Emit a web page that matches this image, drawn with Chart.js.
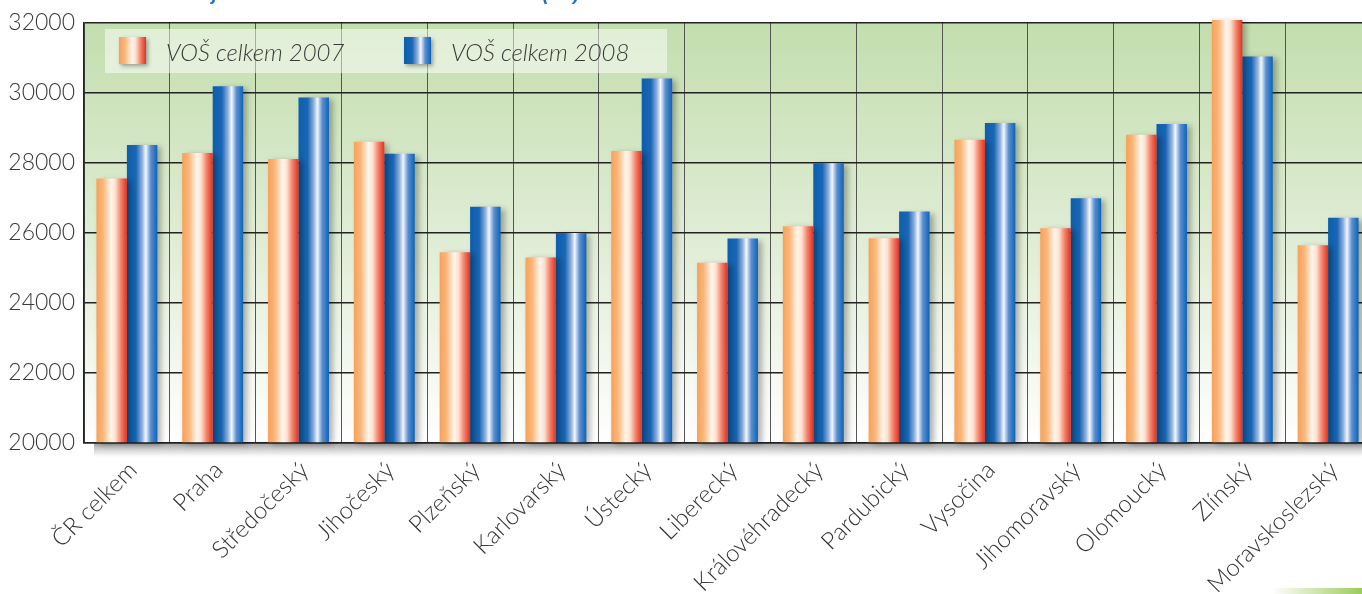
<!DOCTYPE html>
<html>
<head>
<meta charset="utf-8">
<script src="https://cdn.jsdelivr.net/npm/chart.js@4"></script>
<style>
html,body{margin:0;padding:0;background:#fff;overflow:hidden;width:1362px;height:594px;}
#wrap{position:relative;width:1362px;height:594px;overflow:hidden;}
#title{position:absolute;left:176px;top:-17px;font:italic bold 19px "Liberation Sans",Arial,sans-serif;color:#1a74c6;white-space:nowrap;}
#deco{position:absolute;left:1272px;top:588px;width:90px;height:6px;background:linear-gradient(to right,rgba(160,205,100,0),#9ccb5c);}
canvas{position:absolute;left:0;top:0;}
</style>
</head>
<body>
<div id="wrap">
<canvas id="c" width="1372" height="594"></canvas>
<div id="title">Údaje za rok 2008 vzhledem k roku 2007 (Kč)</div>
<div id="deco"></div>
</div>
<script>
const categories = ["ČR celkem","Praha","Středočeský","Jihočeský","Plzeňský","Karlovarský","Ústecký","Liberecký","Královéhradecký","Pardubický","Vysočina","Jihomoravský","Olomoucký","Zlínský","Moravskoslezský"];
const seriesNames = ["VOŠ celkem 2007","VOŠ celkem 2008"];
const values2007 = [27550,28280,28110,28600,25450,25300,28340,25150,26190,25850,28660,26130,28800,32080,25650];
const values2008 = [28510,30190,29870,28260,26750,26000,30410,25840,27990,26610,29140,26990,29110,31040,26430];
const yTicks = [20000,22000,24000,26000,28000,30000,32000];

const CAT_PCT = 0.71;

function barGradient(c, kind, x0, x1) {
  const g = c.createLinearGradient(x0, 0, x1, 0);
  if (kind === 0) {
    g.addColorStop(0, '#f7a158');
    g.addColorStop(0.22, '#fbb67a');
    g.addColorStop(0.48, '#fff6ec');
    g.addColorStop(0.62, '#fde0d0');
    g.addColorStop(0.8, '#f2836a');
    g.addColorStop(1, '#e3301f');
  } else {
    g.addColorStop(0, '#0b5fae');
    g.addColorStop(0.3, '#1a66b4');
    g.addColorStop(0.5, '#8fb0de');
    g.addColorStop(0.62, '#f4f7ff');
    g.addColorStop(0.78, '#5c8fcf');
    g.addColorStop(1, '#0a64b9');
  }
  return g;
}

function bg(kind) {
  return function(ctx) {
    const fallback = kind === 0 ? '#f8a55a' : '#0d62b4';
    const chart = ctx.chart;
    const xs = chart.scales && chart.scales.x;
    if (!xs || typeof ctx.dataIndex !== 'number') return fallback;
    const center = xs.getPixelForValue(ctx.dataIndex);
    const catW = (xs.right - xs.left) / categories.length;
    const w = catW * CAT_PCT / 2;
    const x0 = kind === 0 ? center - w : center;
    if (!isFinite(x0) || !isFinite(w) || w <= 0) return fallback;
    return barGradient(chart.ctx, kind, x0, x0 + w);
  };
}

const decor = {
  id: 'decor',
  beforeDraw(chart) {
    const {ctx, chartArea: a} = chart;
    ctx.save();
    const g = ctx.createLinearGradient(0, a.top, 0, a.bottom);
    g.addColorStop(0, '#c3deae');
    g.addColorStop(0.55, '#e2eed8');
    g.addColorStop(1, '#ffffff');
    ctx.fillStyle = g;
    ctx.fillRect(a.left, a.top, a.right - a.left, a.bottom - a.top);
    const s = ctx.createLinearGradient(0, a.bottom, 0, a.bottom + 14);
    s.addColorStop(0, 'rgba(80,80,80,0.55)');
    s.addColorStop(1, 'rgba(120,120,120,0)');
    ctx.fillStyle = s;
    ctx.fillRect(a.left + 10, a.bottom, a.right - a.left, 14);
    ctx.restore();
  },
  beforeDatasetsDraw(chart) {
    const {ctx} = chart;
    ctx.save();
    ctx.fillStyle = 'rgba(255,255,255,0.5)';
    ctx.fillRect(105, 29, 562, 44);
    const items = [
      {x: 119, label: chart.data.datasets[0].label, kind: 0},
      {x: 404, label: chart.data.datasets[1].label, kind: 1}
    ];
    items.forEach(it => {
      ctx.save();
      ctx.shadowColor = 'rgba(0,0,0,0.35)';
      ctx.shadowBlur = 4;
      ctx.shadowOffsetX = 2;
      ctx.shadowOffsetY = 2;
      ctx.fillStyle = barGradient(ctx, it.kind, it.x, it.x + 27);
      ctx.fillRect(it.x, 37, 27, 27);
      ctx.restore();
      ctx.fillStyle = '#3a3a3a';
      ctx.font = 'italic 300 24px Lato, "Liberation Sans", sans-serif';
      ctx.textBaseline = 'middle';
      ctx.textAlign = 'left';
      ctx.fillText(it.label, it.x + 47, 53);
    });
    ctx.restore();
    ctx.save();
    ctx.shadowColor = 'rgba(0,0,0,0.3)';
    ctx.shadowBlur = 6;
    ctx.shadowOffsetX = 4;
    ctx.shadowOffsetY = 2;
  },
  afterDatasetsDraw(chart) {
    chart.ctx.restore();
  }
};

new Chart(document.getElementById('c'), {
  type: 'bar',
  data: {
    labels: categories,
    datasets: [
      {label: seriesNames[0], data: values2007, backgroundColor: bg(0), borderWidth: 0, clip: false, base: yTicks[0]},
      {label: seriesNames[1], data: values2008, backgroundColor: bg(1), borderWidth: 0, clip: false, base: yTicks[0]}
    ]
  },
  options: {
    responsive: false,
    animation: false,
    layout: {padding: {top: 16, right: 1, left: 0, bottom: 0}},
    datasets: {bar: {categoryPercentage: CAT_PCT, barPercentage: 1}},
    plugins: {legend: {display: false}, tooltip: {enabled: false}, title: {display: false}},
    scales: {
      x: {
        offset: true,
        grid: {offset: true, color: '#555', lineWidth: 1, drawTicks: false},
        border: {color: '#222', width: 1.5},
        ticks: {
          autoSkip: false, minRotation: 45, maxRotation: 45,
          padding: 13, labelOffset: 6,
          color: '#333',
          font: {family: 'Lato, "Liberation Sans", sans-serif', size: 24, weight: '300'}
        },
        afterFit(s) { s.height = 151; }
      },
      y: {
        min: yTicks[0], max: yTicks[yTicks.length - 1],
        afterBuildTicks(s) { s.ticks = yTicks.map(v => ({value: v})); },
        grid: {color: '#222', lineWidth: 1.5, drawTicks: false},
        border: {color: '#222', width: 1.5},
        ticks: {
          padding: 9, color: '#3a3a3a',
          font: {family: 'Lato, "Liberation Sans", sans-serif', size: 23, weight: '300'},
          callback: v => String(v)
        },
        afterFit(s) { s.width = 84; }
      }
    }
  },
  plugins: [decor]
});
</script>
</body>
</html>
